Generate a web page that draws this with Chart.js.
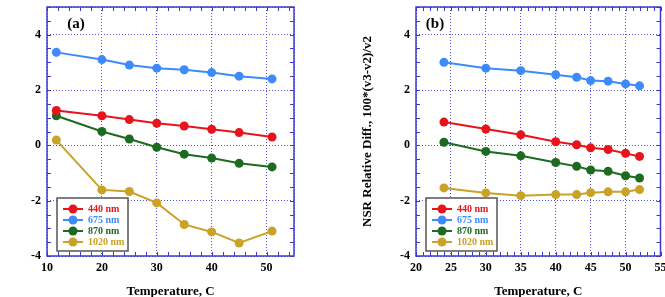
<!DOCTYPE html>
<html><head><meta charset="utf-8">
<script src="https://cdn.jsdelivr.net/npm/chart.js@4/dist/chart.umd.min.js"></script>
<style>
html,body{margin:0;padding:0;background:#fff;}
#wrap{position:relative;width:665px;height:297px;overflow:hidden;background:#fff;}
.pane{position:absolute;top:0;width:330px;height:297px;}
</style></head><body>
<div id="wrap">
<div class="pane" style="left:0"><canvas id="ca"></canvas></div>
<div class="pane" style="left:335px"><canvas id="cb"></canvas></div>
</div>
<script>
// ---- data ----
const seriesLabels = ['440 nm', '675 nm', '870 nm', '1020 nm'];
const seriesColors = ['#e8141c', '#3d8bfa', '#1c6b21', '#c9a227'];

const tempA = [11.7, 20, 25, 30, 35, 40, 45, 51];
const a440  = [1.26, 1.07, 0.93, 0.80, 0.70, 0.58, 0.46, 0.30];
const a675  = [3.36, 3.10, 2.90, 2.79, 2.73, 2.63, 2.50, 2.40];
const a870  = [1.07, 0.50, 0.23, -0.07, -0.32, -0.46, -0.65, -0.78];
const a1020 = [0.19, -1.61, -1.67, -2.08, -2.86, -3.13, -3.53, -3.10];

const tempB = [24, 30, 35, 40, 43, 45, 47.5, 50, 52];
const b440  = [0.84, 0.59, 0.38, 0.13, 0.02, -0.09, -0.15, -0.29, -0.40];
const b675  = [3.00, 2.79, 2.70, 2.55, 2.46, 2.34, 2.32, 2.22, 2.15];
const b870  = [0.11, -0.22, -0.38, -0.62, -0.76, -0.89, -0.94, -1.10, -1.18];
const b1020 = [-1.54, -1.72, -1.82, -1.78, -1.78, -1.71, -1.68, -1.68, -1.60];

const xTitle = 'Temperature, C';
const yTitleB = 'NSR Relative Diff., 100*(v3-v2)/v2';
const yTicks = [-4, -2, 0, 2, 4];

// ---- style ----
const FONT = "'Liberation Serif', 'Times New Roman', serif";
const FRAME = '#3a3ad0';
const GRID = '#5050dd';
Chart.defaults.font.family = FONT;

function mkDatasets(xs, ys) {
  return ys.map((vals, i) => ({
    label: seriesLabels[i],
    data: xs.map((t, k) => ({x: t, y: vals[k]})),
    borderColor: seriesColors[i],
    backgroundColor: seriesColors[i],
    pointBackgroundColor: seriesColors[i],
    pointBorderColor: seriesColors[i],
    pointRadius: 4.5,
    pointBorderWidth: 0,
    borderWidth: 2,
    tension: 0,
    fill: false
  }));
}

const decor = {
  id: 'decor',
  afterDraw(chart, args, o) {
    const ctx = chart.ctx, ca = chart.chartArea, x = chart.scales.x, y = chart.scales.y;
    ctx.save();
    ctx.strokeStyle = FRAME; ctx.lineWidth = 1;
    ctx.beginPath();
    for (let v = x.min; v <= x.max + 1e-9; v += o.xMinor) {
      const px = Math.round(x.getPixelForValue(v)) + 0.5;
      ctx.moveTo(px, ca.bottom); ctx.lineTo(px, ca.bottom - 4);
      ctx.moveTo(px, ca.top); ctx.lineTo(px, ca.top + 4);
    }
    for (let v = y.min; v <= y.max + 1e-9; v += 0.5) {
      const py = Math.round(y.getPixelForValue(v)) + 0.5;
      ctx.moveTo(ca.left, py); ctx.lineTo(ca.left + 4, py);
      ctx.moveTo(ca.right, py); ctx.lineTo(ca.right - 4, py);
    }
    ctx.stroke();
    ctx.lineWidth = 1.5;
    ctx.strokeRect(ca.left, ca.top, ca.right - ca.left, ca.bottom - ca.top);
    // panel tag
    ctx.fillStyle = '#000';
    ctx.font = 'bold 15px ' + FONT;
    ctx.textAlign = 'center'; ctx.textBaseline = 'middle';
    ctx.fillText(o.tag, ca.left + o.tagDx, 24);
    // legend
    const bx = ca.left + 10, by = 198, bw = 71, bh = 53;
    ctx.fillStyle = '#fff';
    ctx.fillRect(bx, by, bw, bh);
    ctx.strokeStyle = '#555'; ctx.lineWidth = 1.5;
    ctx.strokeRect(bx, by, bw, bh);
    ctx.font = 'bold 10px ' + FONT;
    ctx.textAlign = 'left';
    chart.data.datasets.forEach((ds, i) => {
      const yy = by + 11 + i * 11;
      ctx.strokeStyle = ds.borderColor; ctx.lineWidth = 2;
      ctx.beginPath(); ctx.moveTo(bx + 6, yy); ctx.lineTo(bx + 26, yy); ctx.stroke();
      ctx.fillStyle = ds.borderColor;
      ctx.beginPath(); ctx.arc(bx + 16, yy, 4.5, 0, Math.PI * 2); ctx.fill();
      ctx.fillText(ds.label, bx + 31, yy + 0.5);
    });
    ctx.restore();
  }
};

function mkChart(id, xs, ys, opt) {
  return new Chart(document.getElementById(id), {
    type: 'line',
    data: {datasets: mkDatasets(xs, ys)},
    plugins: [decor],
    options: {
      responsive: true, maintainAspectRatio: false, animation: false,
      layout: {padding: {top: 7, right: opt.padRight, left: 0, bottom: 0}},
      plugins: {legend: {display: false}, tooltip: {enabled: false},
        decor: {tag: opt.tag, tagDx: opt.tagDx, xMinor: opt.xMinor}},
      scales: {
        x: {
          type: 'linear', min: opt.xMin, max: opt.xMax,
          ticks: {stepSize: opt.xStep, color: '#000', font: {size: 12, weight: 'bold'}, padding: 5,
            maxRotation: 0, autoSkip: false,
            callback: v => (opt.xLabels.includes(v) ? String(v) : '')},
          grid: {color: GRID, lineWidth: 1, drawTicks: false},
          border: {display: false, dash: [1, 2]},
          title: {display: true, text: xTitle, color: '#000', font: {size: 13, weight: 'bold', lineHeight: 1}, padding: {top: 0, bottom: -1}},
          afterFit: s => { s.height = 41; s.paddingLeft = 0; s.paddingRight = 0; }
        },
        y: {
          type: 'linear', min: -4, max: 5,
          ticks: {stepSize: 2, color: '#000', font: {size: 12, weight: 'bold'}, padding: 6,
            callback: v => (yTicks.includes(v) ? String(v) : '')},
          grid: {color: GRID, lineWidth: 1, drawTicks: false},
          border: {display: false, dash: [1, 2]},
          title: {display: !!opt.yTitle, text: opt.yTitle || '', color: '#000', font: {size: 13, weight: 'bold', lineHeight: 1}, padding: {top: 26, bottom: 0}},
          afterFit: s => { s.width = opt.yWidth; s.paddingTop = 0; s.paddingBottom = 0; }
        }
      }
    }
  });
}

mkChart('ca', tempA, [a440, a675, a870, a1020],
  {tag: '(a)', tagDx: 29, xMin: 10, xMax: 55, xStep: 10, xMinor: 2, xLabels: [10, 20, 30, 40, 50],
   yWidth: 47, padRight: 36, yTitle: ''});
mkChart('cb', tempB, [b440, b675, b870, b1020],
  {tag: '(b)', tagDx: 19, xMin: 20, xMax: 55, xStep: 5, xMinor: 1, xLabels: [20, 25, 30, 35, 40, 45, 50, 55],
   yWidth: 81, padRight: 3, yTitle: yTitleB});
</script>
</body></html>
